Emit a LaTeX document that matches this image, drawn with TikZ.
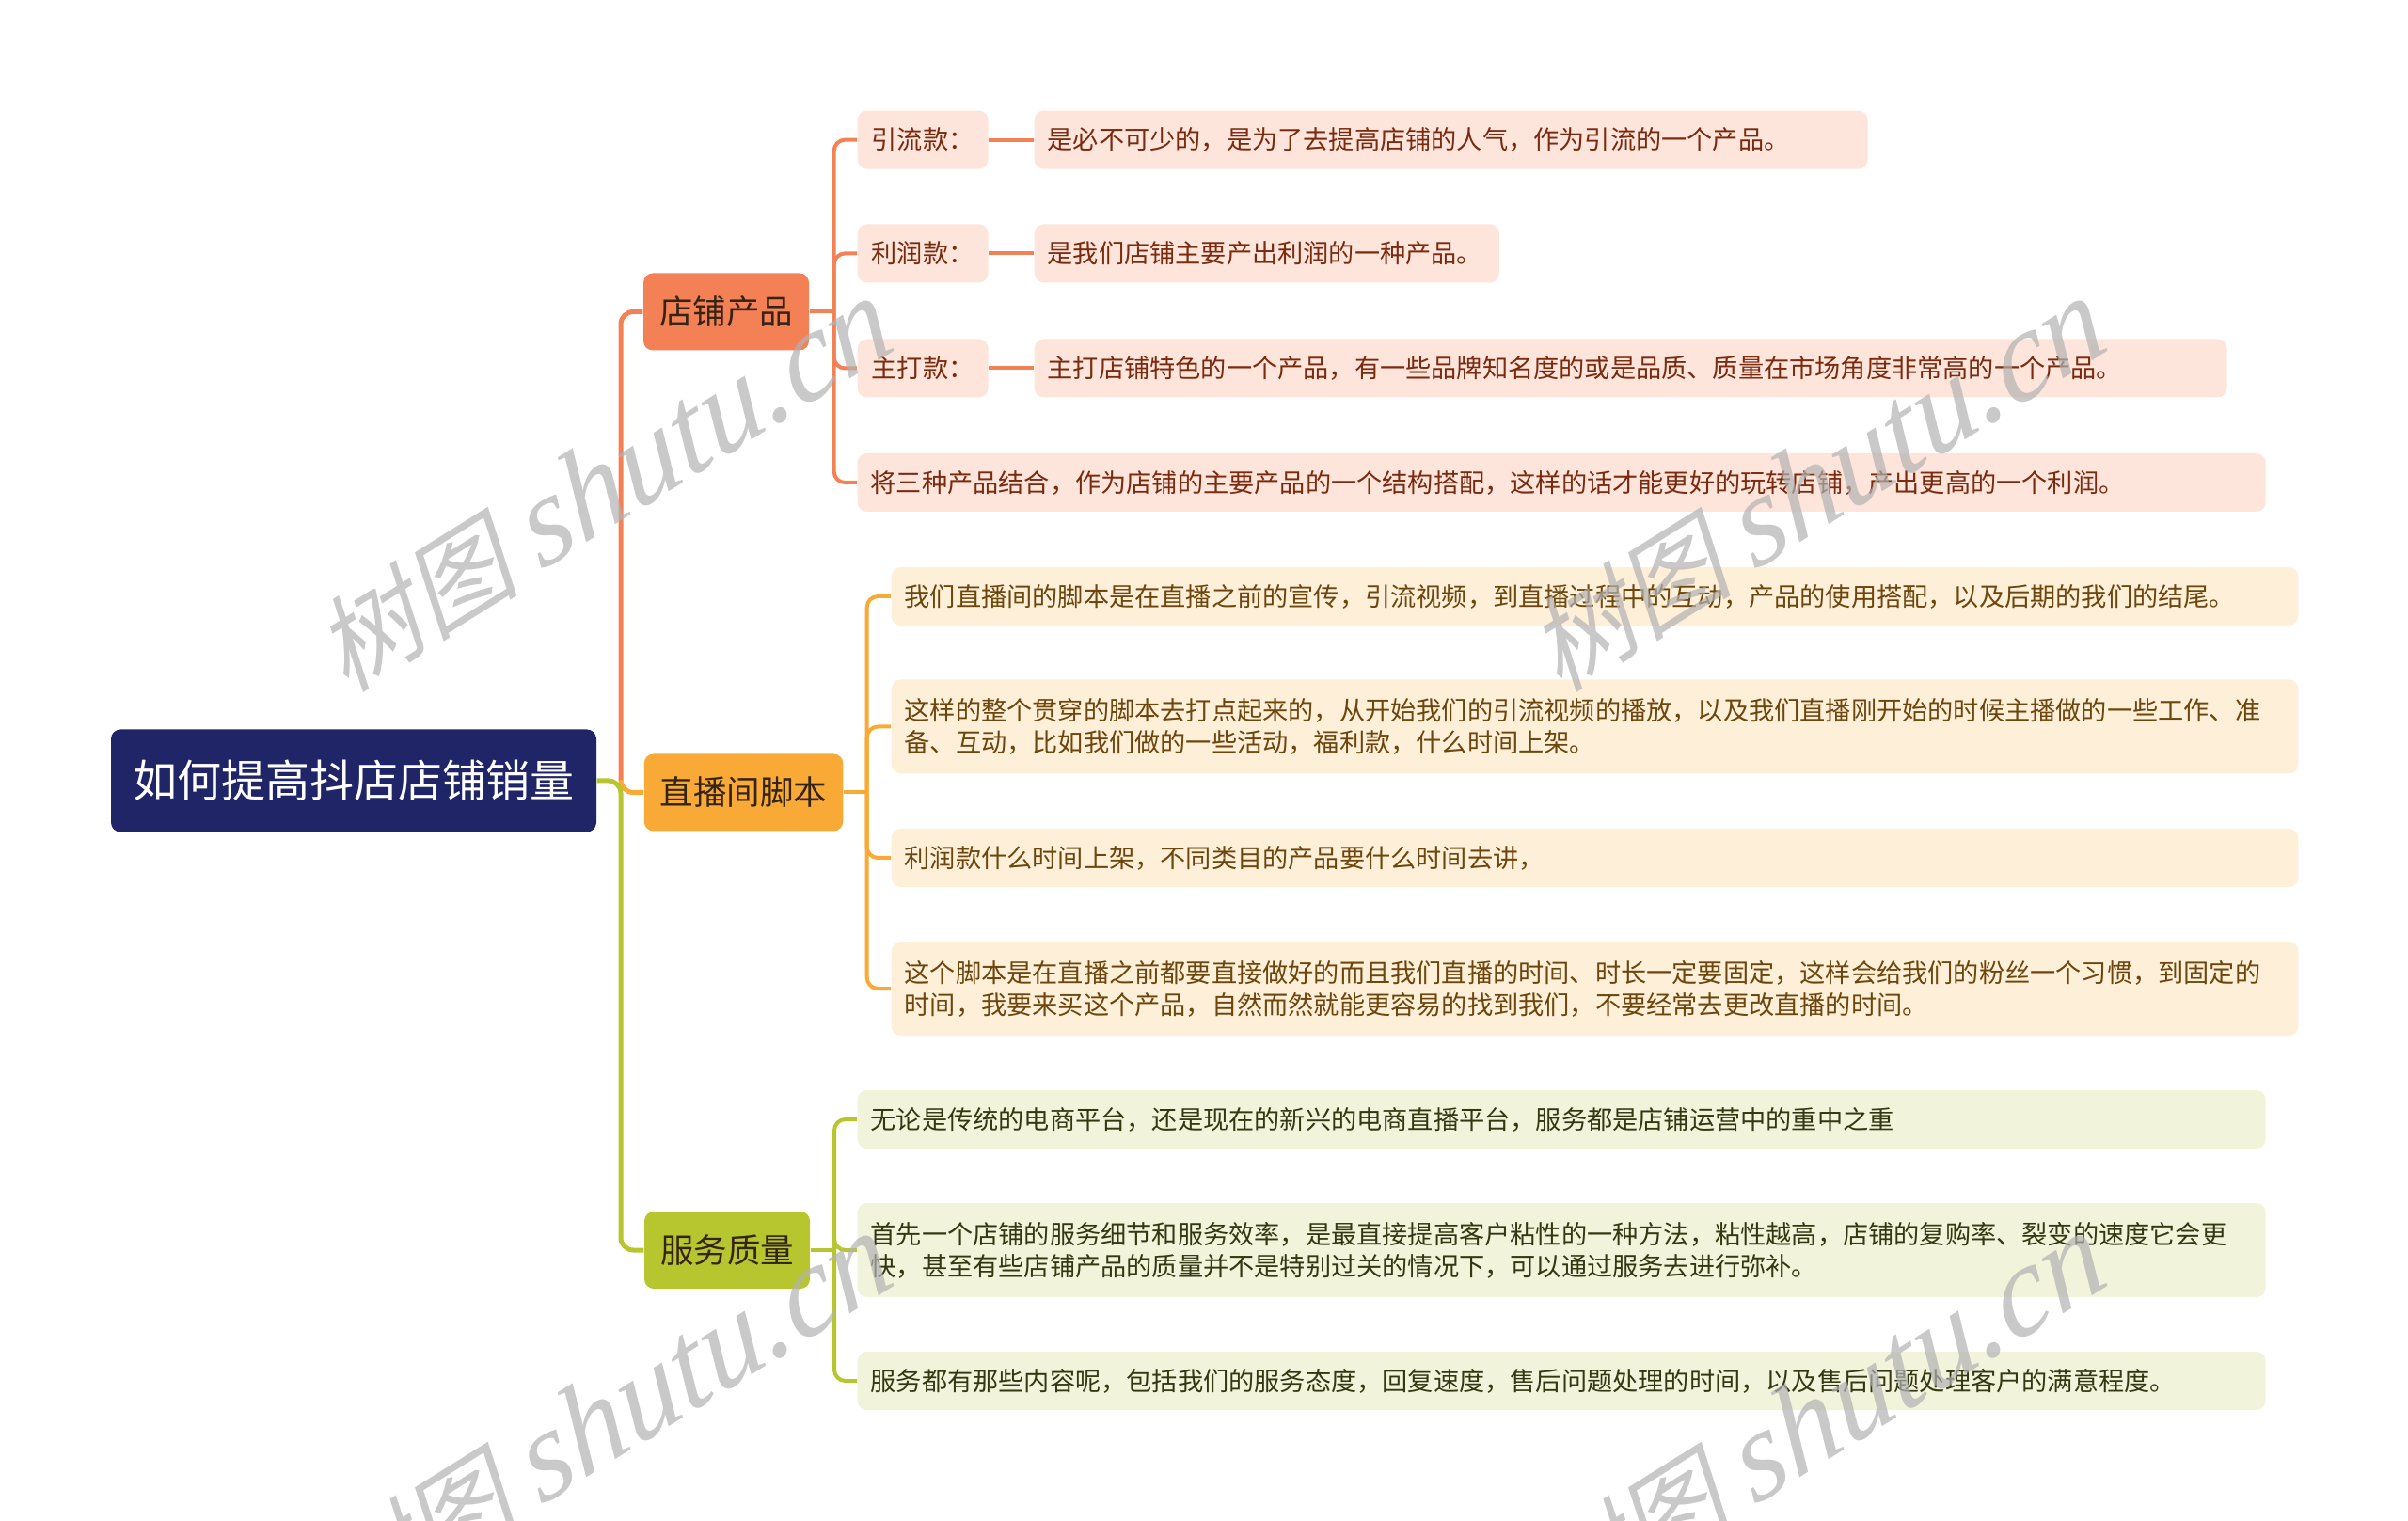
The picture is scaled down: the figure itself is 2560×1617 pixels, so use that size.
\documentclass[tikz,border=0pt]{standalone}
\usepackage{fontspec}
\setmainfont{Noto Sans CJK SC}
\newfontfamily\wmcjk[FakeSlant=0.25]{Noto Sans CJK SC}
\newfontfamily\wmlat[FakeSlant=0.15]{Liberation Serif}
\definecolor{navy}{RGB}{31,37,102}
\definecolor{shopc}{RGB}{244,128,86}
\definecolor{livec}{RGB}{249,170,54}
\definecolor{servc}{RGB}{183,198,46}
\definecolor{shopl}{RGB}{253,229,219}
\definecolor{livel}{RGB}{254,239,217}
\definecolor{servl}{RGB}{241,243,219}
\definecolor{shopt}{RGB}{122,42,14}
\definecolor{livet}{RGB}{108,70,12}
\definecolor{servt}{RGB}{52,56,18}
\definecolor{headt}{RGB}{52,36,20}
\tikzset{ main/.style = { rectangle
                       , rounded corners = 3pt
                       , fill          = navy
                       , text          = white
                       , inner xsep    = 6.9pt
                       , minimum height = 32.7pt
                       , font = \fontsize{14.1pt}{16pt}\selectfont
                       },
            head/.style = { rectangle
            , rounded corners = 3pt
            , text          = headt
            , inner xsep    = 5.1pt
            , minimum height = 24.6pt
            , font = \fontsize{10.65pt}{12pt}\selectfont
            },
            leaf/.style = { rectangle
            , rounded corners = 3pt
            , anchor        = west
            , align         = left
            , inner xsep    = 4.2pt
            , inner ysep    = 0pt
            , minimum width = 41.7pt
            , minimum height = 18.6pt
            , font = \fontsize{8.16pt}{10.2pt}\selectfont
            },
            shopleaf/.style = {leaf, fill = shopl, text = shopt},
            liveleaf/.style = {leaf, fill = livel, text = livet},
            servleaf/.style = {leaf, fill = servl, text = servt},
            big/.style   = {line width = 1.5pt, rounded corners = 4pt},
            small/.style = {line width = 1.2pt, rounded corners = 3.5pt},
            wm/.style = { text = black!30
            , text opacity = 0.7
            , rotate = 32
            }
          }

\begin{document}
\begin{tikzpicture}[x=0.3pt, y=-0.3pt]
    \useasboundingbox (0,0) rectangle (2560,1617);

    \node[main] (root) at (376,830) {如何提高抖店店铺销量};
    \node[head, fill=shopc] (shop) at (772,331.5) {店铺产品};
    \node[head, fill=livec] (live) at (790.5,842.5) {直播间脚本};
    \node[head, fill=servc] (serv) at (773,1329) {服务质量};

    % 店铺产品
    \node[shopleaf] (yin) at (911,148.6) {引流款：};
    \node[shopleaf, text width=257.4pt] (yinv) at (1099,148.6)
        {是必不可少的，是为了去提高店铺的人气，作为引流的一个产品。};
    \node[shopleaf] (li) at (911,269.4) {利润款：};
    \node[shopleaf, text width=139.9pt] (liv) at (1099,269.4)
        {是我们店铺主要产出利润的一种产品。};
    \node[shopleaf] (zhu) at (911,391.5) {主打款：};
    \node[shopleaf, text width=372pt] (zhuv) at (1099,391.5)
        {主打店铺特色的一个产品，有一些品牌知名度的或是品质、质量在市场角度非常高的一个产品。};
    \node[shopleaf, text width=440.7pt] (jiang) at (911,513)
        {将三种产品结合，作为店铺的主要产品的一个结构搭配，这样的话才能更好的玩转店铺，产出更高的一个利润。};

    % 直播间脚本
    \node[liveleaf, text width=440.3pt] (jb1) at (947,634)
        {我们直播间的脚本是在直播之前的宣传，引流视频，到直播过程中的互动，产品的使用搭配，以及后期的我们的结尾。};
    \node[liveleaf, text width=440.3pt, minimum height=30pt] (jb2) at (947,772.5)
        {这样的整个贯穿的脚本去打点起来的，从开始我们的引流视频的播放，以及我们直播刚开始的时候主播做的一些工作、准\\
         备、互动，比如我们做的一些活动，福利款，什么时间上架。};
    \node[liveleaf, text width=440.3pt] (jb3) at (947,912)
        {利润款什么时间上架，不同类目的产品要什么时间去讲，};
    \node[liveleaf, text width=440.3pt, minimum height=30pt] (jb4) at (947,1051)
        {这个脚本是在直播之前都要直接做好的而且我们直播的时间、时长一定要固定，这样会给我们的粉丝一个习惯，到固定的\\
         时间，我要来买这个产品，自然而然就能更容易的找到我们，不要经常去更改直播的时间。};

    % 服务质量
    \node[servleaf, text width=440.7pt] (fw1) at (911,1190)
        {无论是传统的电商平台，还是现在的新兴的电商直播平台，服务都是店铺运营中的重中之重};
    \node[servleaf, text width=440.7pt, minimum height=30pt] (fw2) at (911,1329)
        {首先一个店铺的服务细节和服务效率，是最直接提高客户粘性的一种方法，粘性越高，店铺的复购率、裂变的速度它会更\\
         快，甚至有些店铺产品的质量并不是特别过关的情况下，可以通过服务去进行弥补。};
    \node[servleaf, text width=440.7pt] (fw3) at (911,1468)
        {服务都有那些内容呢，包括我们的服务态度，回复速度，售后问题处理的时间，以及售后问题处理客户的满意程度。};

    \coordinate (j0) at (660,830);
    \coordinate (j1) at (886.7,331.5);
    \coordinate (j2) at (921.7,842.5);
    \coordinate (j3) at (887,1329);

    \draw[big, shopc] (j0) |- (shop.west);
    \draw[big, livec] (j0) |- (live.west);
    \draw[big, servc] (root.east) -- (j0) |- (serv.west);

    \draw[small, shopc] (shop.east) -- (j1);
    \draw[small, shopc] (j1) |- (yin.west);
    \draw[small, shopc] (j1) |- (li.west);
    \draw[small, shopc] (j1) |- (zhu.west);
    \draw[small, shopc] (j1) |- (jiang.west);
    \draw[small, shopc] (yin.east) -- (yinv.west);
    \draw[small, shopc] (li.east) -- (liv.west);
    \draw[small, shopc] (zhu.east) -- (zhuv.west);

    \draw[small, livec] (live.east) -- (j2);
    \draw[small, livec] (j2) |- (jb1.west);
    \draw[small, livec] (j2) |- (jb2.west);
    \draw[small, livec] (j2) |- (jb3.west);
    \draw[small, livec] (j2) |- (jb4.west);

    \draw[small, servc] (serv.east) -- (j3);
    \draw[small, servc] (j3) |- (fw1.west);
    \draw[small, servc] (j3) |- (fw2.west);
    \draw[small, servc] (j3) |- (fw3.west);

    % watermark
    \node[wm] (wm1) at (640,518) {\fontsize{33pt}{33pt}\wmcjk 树图 \fontsize{40pt}{40pt}\wmlat\itshape shutu.cn};
    \node[wm] (wm2) at (1930,518) {\fontsize{33pt}{33pt}\wmcjk 树图 \fontsize{40pt}{40pt}\wmlat\itshape shutu.cn};
    \node[wm] (wm3) at (640,1512) {\fontsize{33pt}{33pt}\wmcjk 树图 \fontsize{40pt}{40pt}\wmlat\itshape shutu.cn};
    \node[wm] (wm4) at (1930,1512) {\fontsize{33pt}{33pt}\wmcjk 树图 \fontsize{40pt}{40pt}\wmlat\itshape shutu.cn};
\end{tikzpicture}
\end{document}
